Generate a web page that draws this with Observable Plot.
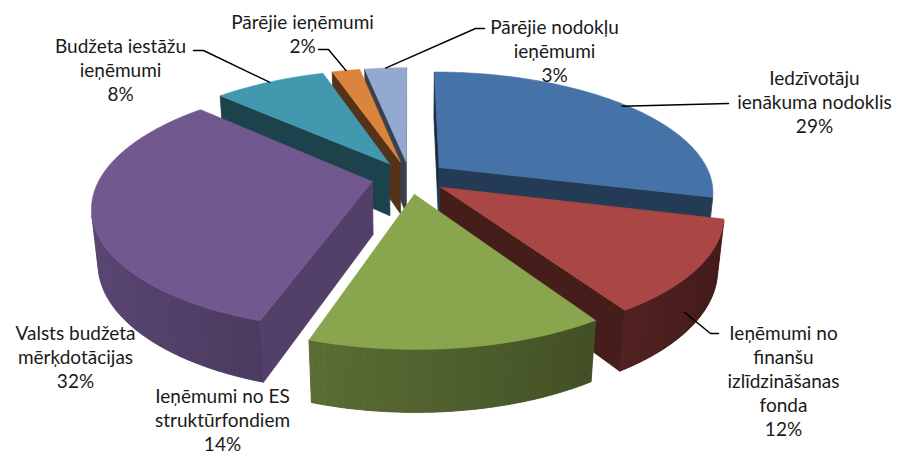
<!DOCTYPE html>
<html>
<head>
<meta charset="utf-8">
<script src="https://cdn.jsdelivr.net/npm/d3@7"></script>
<script src="https://cdn.jsdelivr.net/npm/@observablehq/plot@0.6"></script>
<style>
  html, body { margin: 0; padding: 0; background: #fff; }
  #chart svg { display: block; }
</style>
</head>
<body>
<div id="chart"></div>
<script>
// ---------- data ----------
const categories = [
  "Iedzīvotāju ienākuma nodoklis",
  "Ieņēmumi no finanšu izlīdzināšanas fonda",
  "Ieņēmumi no ES struktūrfondiem",
  "Valsts budžeta mērķdotācijas",
  "Budžeta iestāžu ieņēmumi",
  "Pārējie ieņēmumi",
  "Pārējie nodokļu ieņēmumi"
];
const shares = [29, 12, 14, 32, 8, 2, 3];
const labelLines = [
  "Iedzīvotāju\nienākuma nodoklis",
  "Ieņēmumi no\nfinanšu\nizlīdzināšanas\nfonda",
  "Ieņēmumi no ES\nstruktūrfondiem",
  "Valsts budžeta\nmērķdotācijas",
  "Budžeta iestāžu\nieņēmumi",
  "Pārējie ieņēmumi",
  "Pārējie nodokļu\nieņēmumi"
];
const colors = ["#4572A7", "#AA4643", "#89A54E", "#71588F", "#4198AF", "#DB843D", "#93A9CF"];

// ---------- layout / style ----------
const W = 900, H = 457;
const view = {cx: 409, cy: 177, f: 1290, fxScale: 0.985, D: 4.67, elev: 25.2, thick: 0.215, explode: 0.14};
// label block centres and leader elbows (screen space)
const labelLayout = [
  {x: 814, y: 101, anchorH: 0,    anchorR: 0.98, elbows: [[728, 103]]},
  {x: 783, y: 380, anchorH: -0.8, anchorR: 0.97, elbows: [[710, 333], [718, 333]]},
  {x: 222, y: 419, anchorH: null},
  {x: 75,  y: 356, anchorH: null},
  {x: 120, y: 69,  anchorH: 0,    anchorR: 1.0, elbows: [[203, 50], [193, 50]]},
  {x: 302, y: 33,  anchorH: 0,    anchorR: 1.0, elbows: [[328, 49], [318, 49]]},
  {x: 554, y: 50,  anchorH: 0,    anchorR: 1.0, elbows: [[475, 28], [484, 28]]}
];

// ---------- 3D projection ----------
const rad = d => d * Math.PI / 180;
const sa = Math.sin(rad(view.elev)), ca = Math.cos(rad(view.elev));
const cam = [0, view.D * sa, view.D * ca];
function project([X, Y, Z]) {
  const depth = view.D - (Z * ca + Y * sa);
  const up = Y * ca - Z * sa;
  return [view.cx + view.fxScale * view.f * X / depth, view.cy - view.f * up / depth];
}
function camDepth([X, Y, Z]) { return view.D - (Z * ca + Y * sa); }

const total = d3.sum(shares);
let acc = 0;
const slices = shares.map((v, i) => {
  const a0 = acc / total * 360; acc += v; const a1 = acc / total * 360;
  const mid = (a0 + a1) / 2;
  return {i, a0, a1, mid, ox: view.explode * Math.sin(rad(mid)), oz: -view.explode * Math.cos(rad(mid))};
});
const pt = (s, theta, r, Y) => [s.ox + r * Math.sin(rad(theta)), Y, s.oz - r * Math.cos(rad(theta))];

function shade(c, k) {
  const q = d3.rgb(c);
  return d3.rgb(q.r * k, q.g * k, q.b * k).formatHex();
}
function visible(normalDeg, P) {
  const n = [Math.sin(rad(normalDeg)), 0, -Math.cos(rad(normalDeg))];
  const v = [cam[0] - P[0], cam[1] - P[1], cam[2] - P[2]];
  return n[0] * v[0] + n[1] * v[1] + n[2] * v[2] > 0;
}
const avg = pts => pts[0].map((_, k) => d3.mean(pts, p => p[k]));

// order slices back to front
const order = slices.slice().sort((a, b) =>
  camDepth(pt(b, b.mid, 0.5, 0)) - camDepth(pt(a, a.mid, 0.5, 0)));

const rows = [];
let fid = 0;
function addPoly(pts3, color, sw) {
  const id = fid++;
  const pts = pts3.map(project);
  for (const p of [...pts, pts[0]]) rows.push({id, x: p[0], y: p[1], color, sw});
}

const T = -view.thick;
for (const s of order) {
  const col = colors[s.i];
  const radial = [];
  // radial faces
  for (const [a, nrm] of [[s.a0, s.a0 - 90], [s.a1, s.a1 + 90]]) {
    const quad = [pt(s, a, 0, 0), pt(s, a, 1, 0), pt(s, a, 1, T), pt(s, a, 0, T)];
    const c = avg(quad);
    if (visible(nrm, c)) radial.push({quad, d: camDepth(c), color: shade(col, 0.56 + 0.18 * Math.sin(rad(nrm)))});
  }
  // outer curved wall: visible thin segments
  const n = Math.max(3, Math.ceil((s.a1 - s.a0) / 1));
  const segs = [];
  for (let k = 0; k < n; k++) {
    const t0 = s.a0 + (s.a1 - s.a0) * k / n, t1 = s.a0 + (s.a1 - s.a0) * (k + 1) / n;
    const tm = (t0 + t1) / 2;
    const quad = [pt(s, t0, 1, 0), pt(s, t1, 1, 0), pt(s, t1, 1, T), pt(s, t0, 1, T)];
    const c = avg(quad);
    if (visible(tm, c)) segs.push({t0, t1, quad, color: shade(col, 0.6 - 0.22 * Math.sin(rad(tm)))});
  }
  radial.sort((a, b) => b.d - a.d);
  for (const f of radial) addPoly(f.quad, f.color, 0.8);
  if (segs.length) {
    // underlay of the whole visible wall in its mean colour, so no seams show
    const ta = segs[0].t0, tb = segs[segs.length - 1].t1;
    const under = [];
    const m = Math.max(2, Math.ceil((tb - ta) / 1));
    for (let k = 0; k <= m; k++) under.push(pt(s, ta + (tb - ta) * k / m, 1, 0));
    for (let k = m; k >= 0; k--) under.push(pt(s, ta + (tb - ta) * k / m, 1, T));
    addPoly(under, segs[Math.floor(segs.length / 2)].color, 0.8);
    for (const g of segs) addPoly(g.quad, g.color, 0);
  }
  // top face
  const top = [pt(s, 0, 0, 0)];
  const m = Math.max(2, Math.ceil((s.a1 - s.a0) / 1));
  for (let k = 0; k <= m; k++) top.push(pt(s, s.a0 + (s.a1 - s.a0) * k / m, 1, 0));
  addPoly(top, col, 0.6);
}

// leaders
const leaderRows = [];
labelLayout.forEach((L, i) => {
  if (L.anchorH == null) return;
  const s = slices[i];
  const a = project(pt(s, s.mid, L.anchorR, L.anchorH * view.thick));
  [a, ...L.elbows].forEach(p => leaderRows.push({id: i, x: p[0], y: p[1]}));
});

const labelRows = labelLayout.map((L, i) => ({
  x: L.x, y: L.y, text: `${labelLines[i]}\n${shares[i]}%`, name: categories[i]
}));

const chart = Plot.plot({
  width: W, height: H,
  margin: 0,
  x: {domain: [0, W], range: [0, W], axis: null},
  y: {domain: [0, H], range: [0, H], axis: null},
  color: {type: "identity"},
  style: {background: "#fff"},
  marks: [
    Plot.line(rows, {x: "x", y: "y", z: "id", fill: "color", stroke: "color", strokeWidth: "sw", curve: "linear"}),
    Plot.line(leaderRows, {x: "x", y: "y", z: "id", stroke: "#000", strokeWidth: 1.4}),
    Plot.text(labelRows, {x: "x", y: "y", text: "text", fontSize: 19, lineHeight: 1.26,
      fontFamily: "Lato, 'Open Sans', sans-serif", fill: "#1a1a1a", textAnchor: "middle"})
  ]
});
document.getElementById("chart").appendChild(chart);
</script>
</body>
</html>
